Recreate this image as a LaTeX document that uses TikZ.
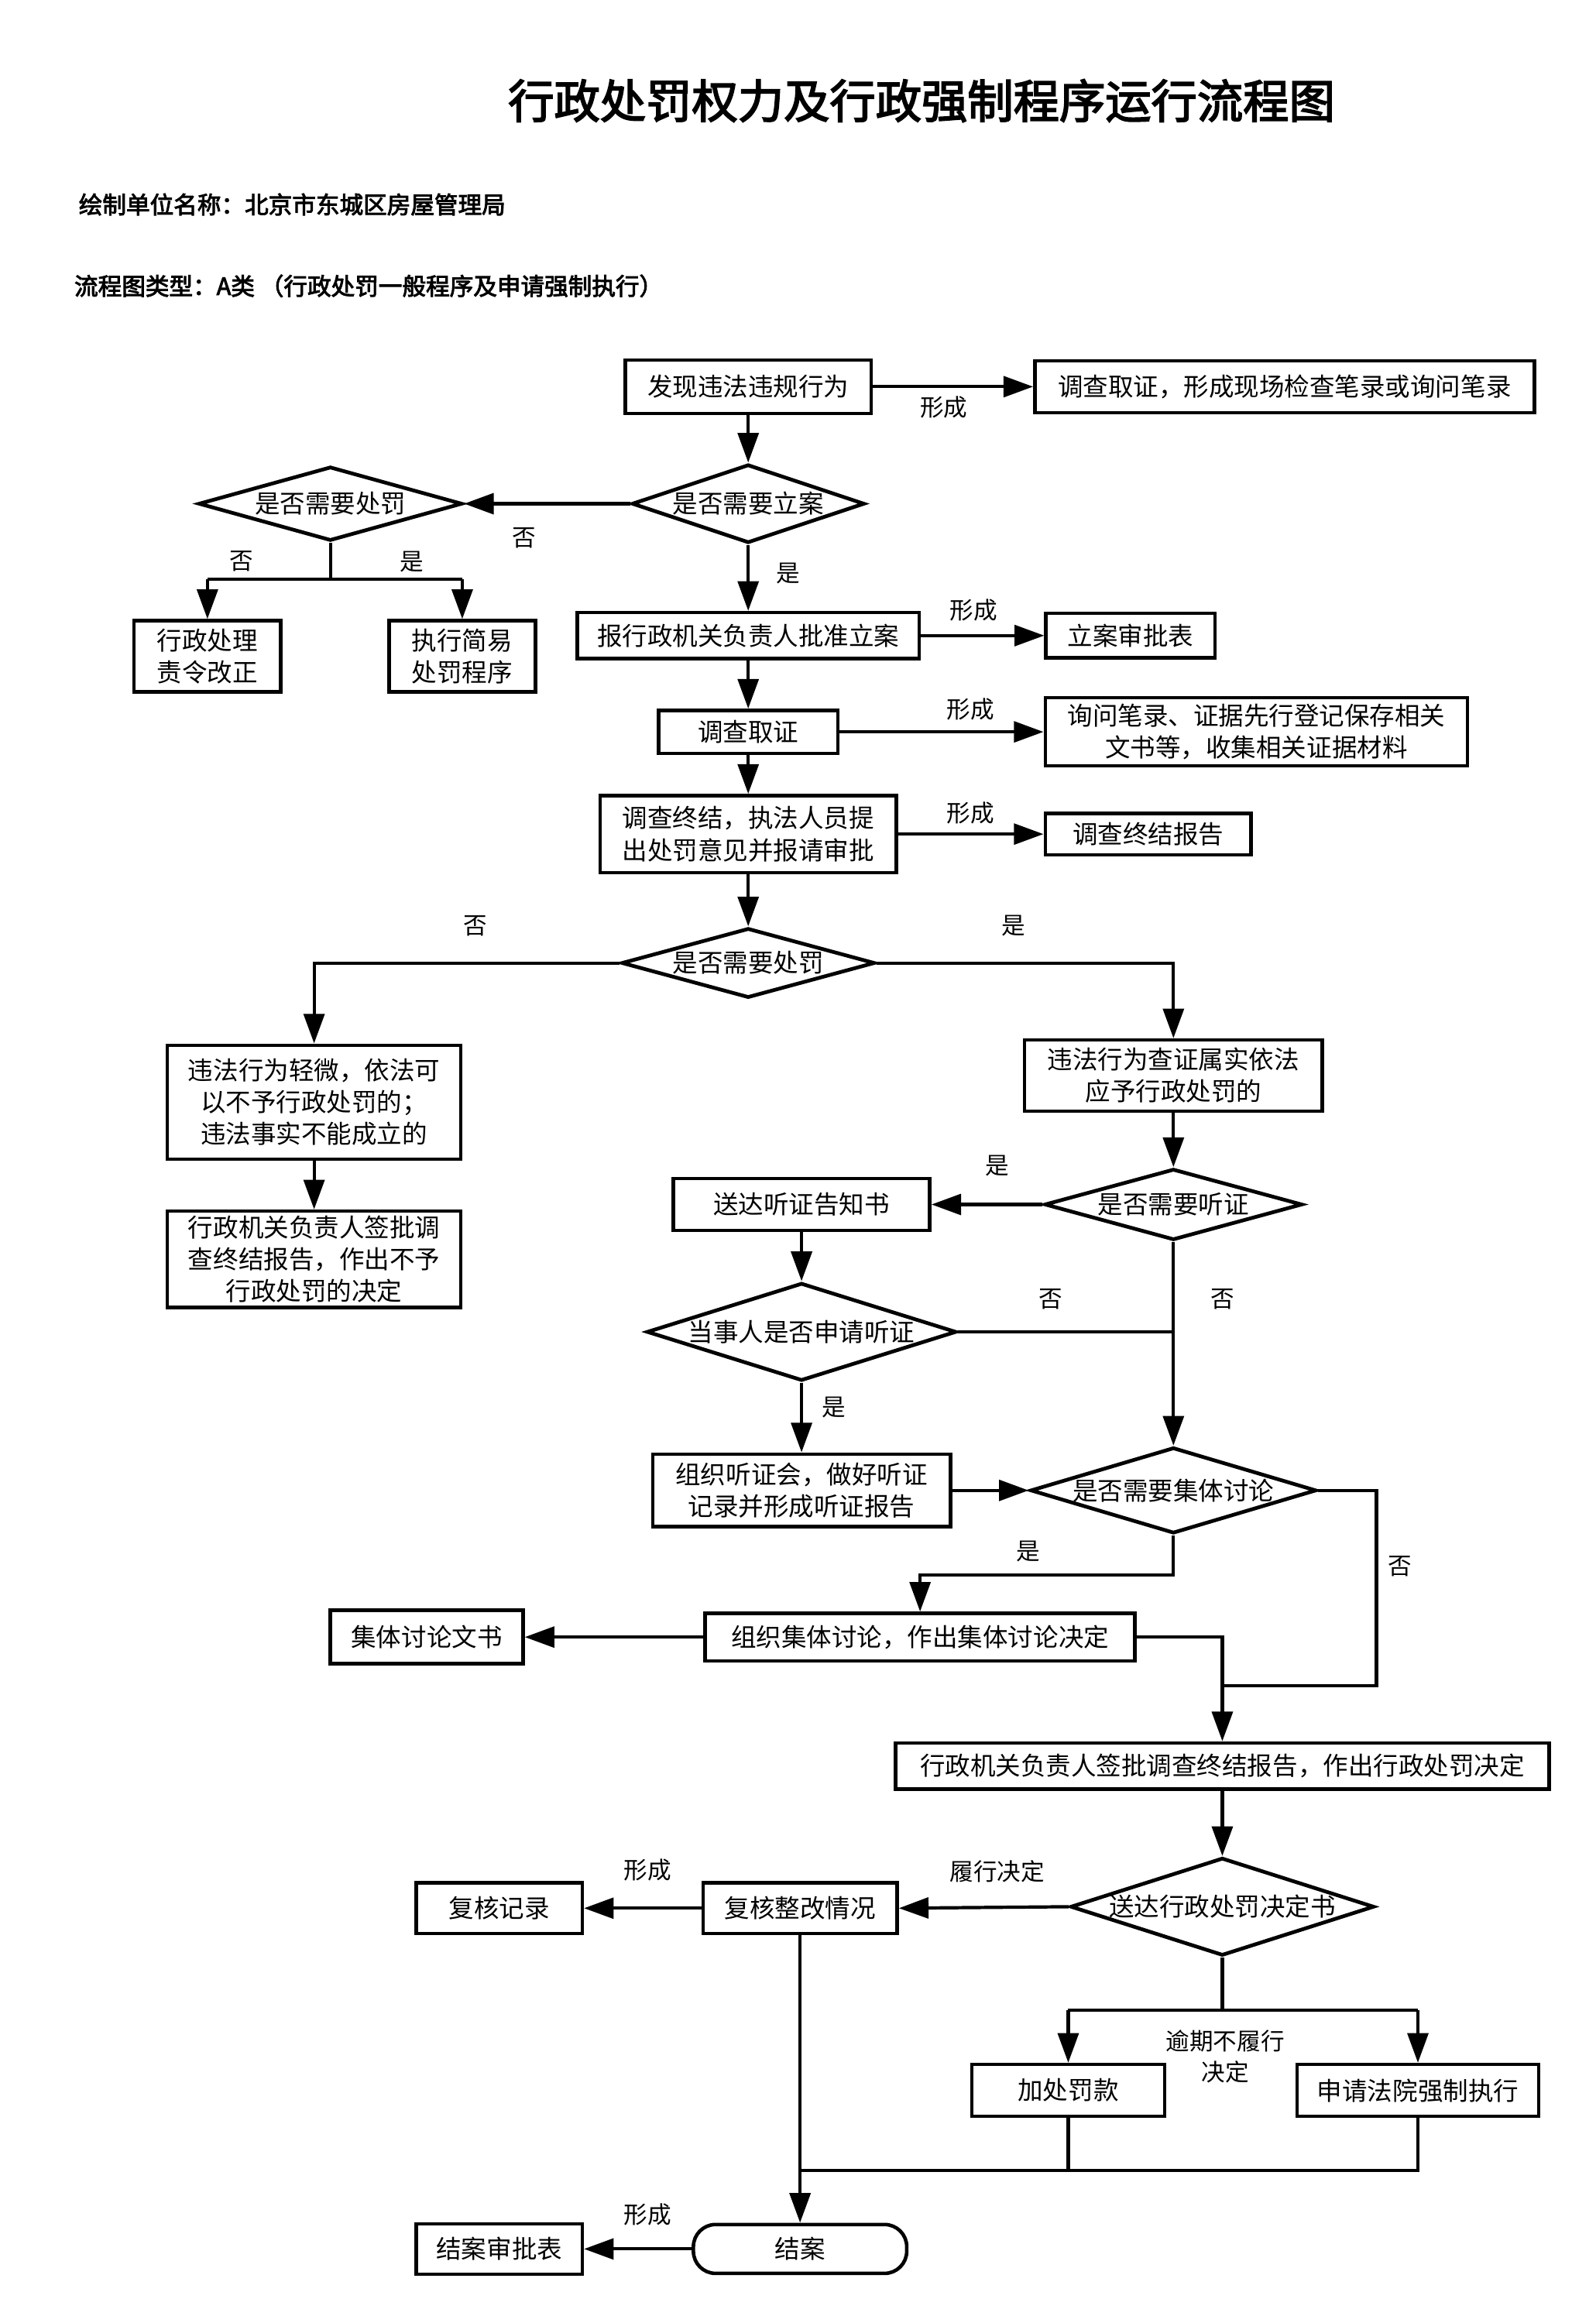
\documentclass[tikz,border=0pt]{standalone}
\usepackage{fontspec}
\setmainfont{Noto Sans CJK SC}[AutoFakeBold=3]
\usetikzlibrary{arrows.meta,shapes.geometric}
\begin{document}
\begin{tikzpicture}[x=1pt,y=-1pt,
  box/.style={draw, line width=2.4pt, fill=white, inner sep=0pt, align=center, font=\fontsize{17}{21.5}\selectfont},
  dia/.style={draw, diamond, line width=2.5pt, fill=white, inner sep=0pt},
  dtext/.style={font=\fontsize{17}{21.5}\selectfont, inner sep=0pt},
  lbl/.style={font=\fontsize{16}{21}\selectfont, inner sep=0pt, align=center},
  conn/.style={line width=2.2pt},
  arr/.style={conn, -{Triangle[length=20pt,width=14pt]}},
]
\fill[white] (0,0) rectangle (1077,1568);
\useasboundingbox (0,0) rectangle (1077,1568);

% header
\node[font=\bfseries\fontsize{31}{31}\selectfont, inner sep=0pt] (title) at (622,68) {行政处罚权力及行政强制程序运行流程图};
\node[anchor=west, font=\bfseries\fontsize{16}{16}\selectfont, inner sep=0pt] (unit) at (53,138) {绘制单位名称：北京市东城区房屋管理局};
\node[anchor=west, font=\bfseries\fontsize{16}{16}\selectfont, inner sep=0pt] (type) at (50,193) {流程图类型：A类 （行政处罚一般程序及申请强制执行）};

% top part
\node[box, minimum width=166pt, minimum height=36pt] (n1) at (505,261) {发现违法违规行为};
\node[box, minimum width=337pt, minimum height=35pt] (n2) at (867,261) {调查取证，形成现场检查笔录或询问笔录};
\draw[arr] (n1.east) -- (n2.west);
\node[lbl] (l1) at (637,275) {形成};

\node[dia, minimum width=157pt, minimum height=53pt] (d1) at (505,340) {};
\node[dtext] (d1t) at (d1) {是否需要立案};
\draw[arr] (n1.south) -- (d1.north);

\node[dia, minimum width=178pt, minimum height=50pt] (d2) at (223,340) {};
\node[dtext] (d2t) at (d2) {是否需要处罚};
\draw[arr] (d1.west) -- (d2.east);
\node[lbl] (l2) at (354,363) {否};

\node[box, minimum width=99pt, minimum height=48pt] (n3) at (140,443) {行政处理\\责令改正};
\node[box, minimum width=99pt, minimum height=48pt] (n4) at (312,443) {执行简易\\处罚程序};
\coordinate (b1) at (223,391);
\coordinate (b1l) at (140,391);
\coordinate (b1r) at (312,391);
\draw[conn] (d2.south) -- (b1);
\draw[conn] (b1l) -- (b1r);
\draw[arr] (b1l) -- (n3.north);
\draw[arr] (b1r) -- (n4.north);
\node[lbl] (l3) at (163,379) {否};
\node[lbl] (l4) at (278,379) {是};

\node[box, minimum width=231pt, minimum height=31pt] (n5) at (505,429) {报行政机关负责人批准立案};
\draw[arr] (d1.south) -- (n5.north);
\node[lbl] (l5) at (532,387) {是};
\node[box, minimum width=114pt, minimum height=30pt] (n6) at (763,429) {立案审批表};
\draw[arr] (n5.east) -- (n6.west);
\node[lbl] (l6) at (657,412) {形成};

\node[box, minimum width=121pt, minimum height=29pt] (n7) at (505,494) {调查取证};
\draw[arr] (n5.south) -- (n7.north);
\node[box, minimum width=285pt, minimum height=46pt] (n8) at (848,494) {询问笔录、证据先行登记保存相关\\文书等，收集相关证据材料};
\draw[arr] (n7.east) -- (n8.west);
\node[lbl] (l7) at (655,479) {形成};

\node[box, minimum width=200pt, minimum height=52pt] (n9) at (505,563) {调查终结，执法人员提\\出处罚意见并报请审批};
\draw[arr] (n7.south) -- (n9.north);
\node[box, minimum width=139pt, minimum height=28pt] (n10) at (775,563) {调查终结报告};
\draw[arr] (n9.east) -- (n10.west);
\node[lbl] (l8) at (655,549) {形成};

% decision on punishment
\node[dia, minimum width=171pt, minimum height=47pt] (d3) at (505,650) {};
\node[dtext] (d3t) at (d3) {是否需要处罚};
\draw[arr] (n9.south) -- (d3.north);

\node[box, minimum width=198pt, minimum height=77pt] (n11) at (212,744) {违法行为轻微，依法可\\以不予行政处罚的；\\违法事实不能成立的};
\node[box, minimum width=198pt, minimum height=65pt] (n12) at (212,850) {行政机关负责人签批调\\查终结报告，作出不予\\行政处罚的决定};
\draw[arr] (d3.west) -| (n11.north);
\draw[arr] (n11.south) -- (n12.north);
\node[lbl] (l9) at (321,625) {否};

\node[box, minimum width=201pt, minimum height=48pt] (n13) at (792,726) {违法行为查证属实依法\\应予行政处罚的};
\draw[arr] (d3.east) -| (n13.north);
\node[lbl] (l10) at (684,625) {是};

% hearing
\node[dia, minimum width=174pt, minimum height=48pt] (d4) at (792,813) {};
\node[dtext] (d4t) at (d4) {是否需要听证};
\draw[arr] (n13.south) -- (d4.north);

\node[box, minimum width=173pt, minimum height=35pt] (n14) at (541,813) {送达听证告知书};
\draw[arr] (d4.west) -- (n14.east);
\node[lbl] (l11) at (673,787) {是};

\node[dia, minimum width=209pt, minimum height=66pt] (d5) at (541,899) {};
\node[dtext] (d5t) at (d5) {当事人是否申请听证};
\draw[arr] (n14.south) -- (d5.north);
\coordinate (j1) at (792,899);
\draw[conn] (d5.east) -- (j1);
\node[lbl] (l12) at (709,877) {否};
\node[lbl] (l13) at (825,877) {否};

\node[dia, minimum width=193pt, minimum height=58pt] (d6) at (792,1006) {};
\node[dtext] (d6t) at (d6) {是否需要集体讨论};
\draw[arr] (d4.south) -- (d6.north);

\node[box, minimum width=201pt, minimum height=49pt] (n15) at (541,1006) {组织听证会，做好听证\\记录并形成听证报告};
\draw[arr] (d5.south) -- (n15.north);
\node[lbl] (l14) at (563,950) {是};
\draw[arr] (n15.east) -- (d6.west);

% collective discussion
\node[box, minimum width=290pt, minimum height=32pt] (n16) at (621,1105) {组织集体讨论，作出集体讨论决定};
\coordinate (c3) at (792,1063);
\coordinate (c4) at (621,1063);
\draw[arr] (d6.south) -- (c3) -- (c4) -- (n16.north);
\node[lbl] (l15) at (694,1047) {是};

\node[box, minimum width=130pt, minimum height=36pt] (n17) at (288,1105) {集体讨论文书};
\draw[arr] (n16.west) -- (n17.east);

\node[box, minimum width=441pt, minimum height=31pt] (n18) at (825,1192) {行政机关负责人签批调查终结报告，作出行政处罚决定};
\draw[arr] (n16.east) -| (n18.north);
\coordinate (c1) at (929,1138);
\coordinate (c2) at (825,1138);
\draw[conn] (d6.east) -| (c1) -- (c2);
\node[lbl] (l16) at (945,1057) {否};

% decision delivery
\node[dia, minimum width=205pt, minimum height=66pt] (d7) at (825,1287) {};
\node[dtext] (d7t) at (d7) {送达行政处罚决定书};
\draw[arr] (n18.south) -- (d7.north);

\node[box, minimum width=131pt, minimum height=34pt] (n19) at (540,1288) {复核整改情况};
\draw[arr] (d7.west) -- (n19.east);
\node[lbl] (l17) at (673,1263) {履行决定};
\node[box, minimum width=112pt, minimum height=34pt] (n20) at (337,1288) {复核记录};
\draw[arr] (n19.west) -- (n20.east);
\node[lbl] (l18) at (437,1262) {形成};

\node[box, minimum width=130pt, minimum height=35pt] (n21) at (721,1411) {加处罚款};
\node[box, minimum width=163pt, minimum height=35pt] (n22) at (957,1411) {申请法院强制执行};
\coordinate (c5) at (825,1357);
\coordinate (c6) at (721,1357);
\coordinate (c7) at (957,1357);
\draw[conn] (d7.south) -- (c5);
\draw[conn] (c6) -- (c7);
\draw[arr] (c6) -- (n21.north);
\draw[arr] (c7) -- (n22.north);
\node[lbl] (l19) at (827,1388) {逾期不履行\\决定};

\node[box, rounded corners=15pt, minimum width=144pt, minimum height=33pt] (n23) at (540,1518) {结案};
\coordinate (c8) at (721,1465);
\coordinate (c9) at (957,1465);
\coordinate (c10) at (540,1465);
\draw[conn] (n21.south) -- (c8);
\draw[conn] (n22.south) -- (c9) -- (c10);
\draw[arr] (n19.south) -- (n23.north);

\node[box, minimum width=112pt, minimum height=34pt] (n24) at (337,1518) {结案审批表};
\draw[arr] (n23.west) -- (n24.east);
\node[lbl] (l20) at (437,1495) {形成};
\end{tikzpicture}
\end{document}
